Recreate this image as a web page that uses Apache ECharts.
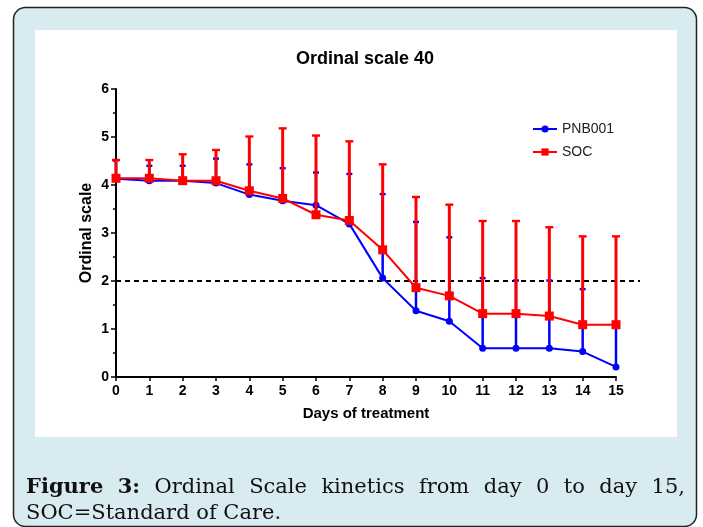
<!DOCTYPE html>
<html>
<head>
<meta charset="utf-8">
<script src="https://cdn.jsdelivr.net/npm/echarts@6/dist/echarts.min.js"></script>
<style>
html,body{margin:0;padding:0;background:#fff;}
#c{width:703px;height:527px;}
</style>
</head>
<body>
<div id="c"></div>
<script>
// ---- data ----
var days = [0,1,2,3,4,5,6,7,8,9,10,11,12,13,14,15];
var pnbMean  = [4.13,4.09,4.09,4.04,3.80,3.67,3.58,3.19,2.06,1.38,1.16,0.60,0.60,0.60,0.53,0.21];
var pnbUpper = [4.52,4.40,4.40,4.55,4.43,4.35,4.26,4.23,3.81,3.23,2.91,2.06,2.01,2.01,1.83,1.12];
var socMean  = [4.14,4.14,4.09,4.09,3.88,3.72,3.38,3.26,2.65,1.86,1.69,1.32,1.32,1.27,1.09,1.09];
var socUpper = [4.52,4.52,4.64,4.73,5.01,5.18,5.03,4.91,4.43,3.75,3.59,3.25,3.25,3.12,2.93,2.93];
var refLevel = 2;
var refLine = [[0, refLevel],[1, refLevel]];
var yTicks = [0,1,2,3,4,5,6];
var seriesNames = ['PNB001','SOC'];
var titleText = 'Ordinal scale 40';
var xName = 'Days of treatment';
var yName = 'Ordinal scale';
var captionBold = ['Figure','3:'];
var captionLine1 = ['Ordinal','Scale','kinetics','from','day','0','to','day','15,'];
var captionLine2 = 'SOC=Standard of Care.';

var chart = echarts.init(document.getElementById('c'), null, {renderer:'canvas'});

function pairs(a){ return days.map(function(d,i){ return [d,a[i]]; }); }
function errData(m,u){ return days.map(function(d,i){ return [d,m[i],u[i]]; }); }

function errRender(color, lw, capW){
  return function(params, api){
    var x = api.value(0), m = api.value(1), u = api.value(2);
    var p0 = api.coord([x,m]), p1 = api.coord([x,u]);
    return {type:'group', children:[
      {type:'line', shape:{x1:p0[0],y1:p0[1],x2:p1[0],y2:p1[1]}, style:{stroke:color,lineWidth:lw}},
      {type:'line', shape:{x1:p1[0]-capW/2,y1:p1[1],x2:p1[0]+capW/2,y2:p1[1]}, style:{stroke:color,lineWidth:2.4}}
    ]};
  };
}

// caption words justified
var cv = document.createElement('canvas').getContext('2d');
var capSize = 21;
var boldFont = 'bold '+capSize+'px "DejaVu Serif"';
var normFont = capSize+'px "DejaVu Serif"';
var words = [];
captionBold.forEach(function(w){ cv.font = boldFont; words.push({t:w,b:true,w:cv.measureText(w).width}); });
captionLine1.forEach(function(w){ cv.font = normFont; words.push({t:w,b:false,w:cv.measureText(w).width}); });
var lineL = 26, lineR = 685;
var sumW = words.reduce(function(s,o){return s+o.w;},0);
var gap = (lineR-lineL-sumW)/(words.length-1);
var capGraphics = [];
var cx = lineL;
words.forEach(function(o){
  capGraphics.push({type:'text', x:cx, y:477, style:{text:o.t, font:o.b?boldFont:normFont, fill:'#111', textVerticalAlign:'alphabetic', verticalAlign:'alphabetic'}, z:10});
  cx += o.w + gap;
});
capGraphics.push({type:'text', x:lineL, y:503, style:{text:captionLine2, font:normFont, fill:'#111', textVerticalAlign:'alphabetic', verticalAlign:'alphabetic'}, z:10});

var labelFont = {fontFamily:'Liberation Sans', fontWeight:'bold', fontSize:14, color:'#000'};

var option = {
  animation:false,
  backgroundColor:'#ffffff',
  graphic:[
    {type:'rect', shape:{x:13.5,y:7.5,width:683,height:519,r:12}, style:{fill:'#d8ebf1',stroke:'#222',lineWidth:1.5}, z:-10},
    {type:'rect', shape:{x:35,y:30,width:642,height:407}, style:{fill:'#ffffff'}, z:-9},
    {type:'text', x:365, y:59, style:{text:titleText, font:'bold 18px "Liberation Sans"', fill:'#000', textAlign:'center', textVerticalAlign:'middle', align:'center', verticalAlign:'middle'}, z:10}
  ].concat(capGraphics),
  legend:{
    orient:'vertical', left:527, top:117, itemWidth:24, itemHeight:9, itemGap:9,
    data:seriesNames,
    textStyle:{fontFamily:'Liberation Sans', fontSize:14, color:'#222'}
  },
  grid:[
    {left:116, right:87, top:89, bottom:150, containLabel:false},
    {left:116, right:63, top:89, bottom:150, containLabel:false}
  ],
  xAxis:[{
    type:'value', min:0, max:15, interval:1, gridIndex:0,
    name:xName, nameLocation:'middle', nameGap:29, nameMoveOverlap:false,
    nameTextStyle:{fontFamily:'Liberation Sans', fontWeight:'bold', fontSize:15, color:'#000'},
    axisLine:{show:true, lineStyle:{color:'#000', width:2}},
    axisTick:{show:true, length:4, lineStyle:{color:'#000', width:1.5}},
    axisLabel:Object.assign({margin:7}, labelFont),
    splitLine:{show:false}
  },{
    type:'value', min:0, max:1, gridIndex:1, show:false
  }],
  yAxis:[{
    type:'value', min:yTicks[0], max:yTicks[yTicks.length-1], interval:1, gridIndex:0,
    name:yName, nameLocation:'middle', nameGap:21, nameRotate:90, nameMoveOverlap:false,
    nameTextStyle:{fontFamily:'Liberation Sans', fontWeight:'bold', fontSize:16, color:'#000'},
    axisLine:{show:true, lineStyle:{color:'#000', width:2}},
    axisTick:{show:true, length:5, lineStyle:{color:'#000', width:1.5}},
    minorTick:{show:true, splitNumber:2, length:3, lineStyle:{color:'#000', width:1.5}},
    axisLabel:Object.assign({margin:7}, labelFont),
    splitLine:{show:false}
  },{
    type:'value', min:yTicks[0], max:yTicks[yTicks.length-1], gridIndex:1, show:false
  }],
  series:[
    {type:'line', name:'ref', xAxisIndex:1, yAxisIndex:1, data:refLine, symbol:'none', silent:true,
      lineStyle:{color:'#000', width:1.8, type:[5,4]}, z:0},
    {type:'custom', name:'pnbErr', renderItem:errRender('#0000ff',2.5,6), data:errData(pnbMean,pnbUpper), z:1, silent:true, encode:{x:0,y:[1,2]}},
    {type:'line', name:seriesNames[0], data:pairs(pnbMean), symbol:'circle', symbolSize:7, color:'#0000ff',
      lineStyle:{color:'#0000ff',width:2}, itemStyle:{color:'#0000ff'}, z:2},
    {type:'custom', name:'socErr', renderItem:errRender('#ff0000',3,8), data:errData(socMean,socUpper), z:3, silent:true, encode:{x:0,y:[1,2]}},
    {type:'line', name:seriesNames[1], data:pairs(socMean), symbol:'rect', symbolSize:9, color:'#ff0000',
      lineStyle:{color:'#ff0000',width:2}, itemStyle:{color:'#ff0000'}, z:4}
  ]
};
chart.setOption(option);
</script>
</body>
</html>
